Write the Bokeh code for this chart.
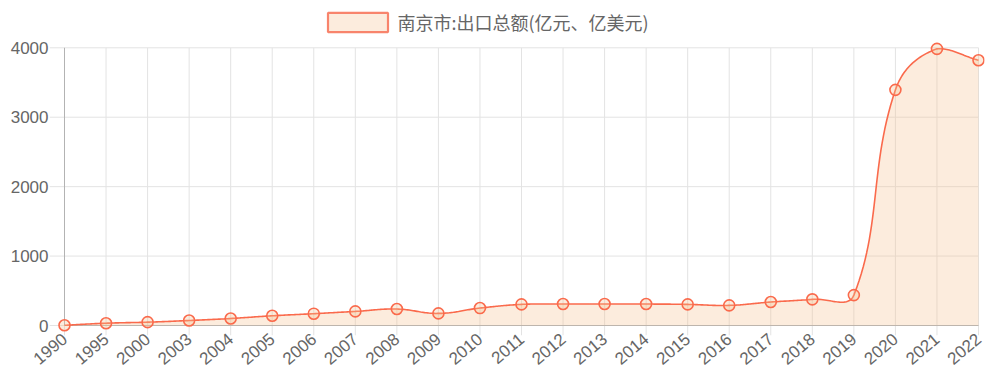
import numpy as np
from bokeh.plotting import figure
from bokeh.models import Legend, LegendItem, FixedTicker, Range1d
from bokeh.embed import file_html
from bokeh.resources import INLINE

years = ["1990", "1995", "2000", "2003", "2004", "2005", "2006", "2007", "2008", "2009",
         "2010", "2011", "2012", "2013", "2014", "2015", "2016", "2017", "2018", "2019",
         "2020", "2021", "2022"]
export_total = [3, 33, 48, 72, 101, 140, 170, 203, 237, 174,
                251, 304, 309, 309, 309, 304, 290, 338, 377, 438,
                3394, 3985, 3821]
y_ticks = [0, 1000, 2000, 3000, 4000]
series_name = "南京市:出口总额(亿元、亿美元)"

LINE = "#fa6a4c"
FILL = "#f5c08e"
FILL_A = 0.3
GRID = "#e3e3e3"
AXIS = "#b3b3b3"
TXT = "#666666"

n = len(years)
xi = np.arange(n, dtype=float)
yv = np.array(export_total, dtype=float)
ymax = y_ticks[-1]

# pixel extents of the padded frame (Chart.js tick marks drawn as grid extensions)
PAD_L, PAD_R, PAD_B, PAD_T = 15, 6, 10, 47.3
FRAME_W, FRAME_H = 935, 335
sx = (FRAME_W - PAD_L - PAD_R) / (n - 1)
sy = (FRAME_H - PAD_B - PAD_T) / ymax

# Chart.js-style spline smoothing (tension 0.4), in pixel space
px, py = xi * sx, yv * sy
tension = 0.4
cpn = np.zeros((n, 2)); cpp = np.zeros((n, 2))
for i in range(n):
    cur = np.array([px[i], py[i]])
    prev = np.array([px[i - 1], py[i - 1]]) if i > 0 else cur
    nxt = np.array([px[i + 1], py[i + 1]]) if i < n - 1 else cur
    d01 = np.hypot(*(cur - prev)); d12 = np.hypot(*(nxt - cur))
    tot = d01 + d12
    s01 = d01 / tot if tot else 0; s12 = d12 / tot if tot else 0
    fa, fb = tension * s01, tension * s12
    cpp[i] = cur - fa * (nxt - prev)
    cpn[i] = cur + fb * (nxt - prev)
top = ymax * sy
cpp[:, 1] = np.clip(cpp[:, 1], 0, top); cpn[:, 1] = np.clip(cpn[:, 1], 0, top)
cx, cy = [], []
tt = np.linspace(0, 1, 30)
for i in range(n - 1):
    p0 = np.array([px[i], py[i]]); p3 = np.array([px[i + 1], py[i + 1]])
    p1 = cpn[i]; p2 = cpp[i + 1]
    for t in (tt if i == 0 else tt[1:]):
        b = (1 - t) ** 3 * p0 + 3 * (1 - t) ** 2 * t * p1 + 3 * (1 - t) * t ** 2 * p2 + t ** 3 * p3
        cx.append(b[0] / sx); cy.append(b[1] / sy)

x0, x1 = -PAD_L / sx, (n - 1) + PAD_R / sx
y0, y1 = -PAD_B / sy, ymax + PAD_T / sy

p = figure(width=988, height=388, output_backend="svg", toolbar_location=None,
           x_range=Range1d(x0, x1), y_range=Range1d(y0, y1),
           min_border_left=49, min_border_right=4, min_border_top=0, min_border_bottom=53)
p.outline_line_color = None
p.background_fill_color = "white"
p.border_fill_color = "white"
p.xgrid.grid_line_color = None
p.ygrid.grid_line_color = None

yt = np.array(y_ticks, dtype=float)
# grid lines (with tick extensions)
p.segment(x0=xi, x1=xi, y0=y0, y1=ymax, line_color=GRID, line_width=1)
p.segment(x0=x0, x1=n - 1, y0=yt, y1=yt, line_color=GRID, line_width=1)
# axis lines
p.segment(x0=[0], x1=[n - 1], y0=[0], y1=[0], line_color=AXIS, line_width=1)
p.segment(x0=[0], x1=[0], y0=[0], y1=[ymax], line_color=AXIS, line_width=1)

area = p.varea(x=cx, y1=0, y2=cy, fill_color=FILL, fill_alpha=FILL_A)
ln = p.line(x=cx, y=cy, line_color=LINE, line_width=1.6)
pts = p.scatter(x=xi, y=yv, size=11, marker="circle", line_color=LINE, line_width=1.6,
                fill_color=FILL, fill_alpha=FILL_A)
# legend swatch proxy (not drawn in the plot: NaN geometry)
nan1 = np.full(1, np.nan)
swatch = p.quad(left=nan1, right=nan1, top=nan1, bottom=nan1, fill_color=FILL,
                fill_alpha=FILL_A, line_color="#f8846c", line_width=2.2)

p.xaxis.ticker = FixedTicker(ticks=list(range(n)))
p.xaxis.major_label_overrides = {i: y for i, y in enumerate(years)}
p.xaxis.major_label_orientation = 0.7
p.yaxis.ticker = FixedTicker(ticks=y_ticks)

for ax in (p.xaxis[0], p.yaxis[0]):
    ax.axis_line_color = None
    ax.major_tick_line_color = None
    ax.major_tick_in = 0
    ax.major_tick_out = 0
    ax.minor_tick_line_color = None
    ax.major_label_text_font = "Liberation Sans"
    ax.major_label_text_font_size = "17px"
    ax.major_label_text_color = TXT
p.yaxis.major_label_standoff = 1
p.xaxis.major_label_standoff = 1

legend = Legend(items=[LegendItem(label=series_name, renderers=[swatch])],
                location=(270.5, 300), orientation="horizontal",
                border_line_color=None, background_fill_alpha=0,
                padding=0, margin=0, spacing=0, label_standoff=3,
                glyph_width=75, glyph_height=24,
                label_text_font="Noto Sans CJK SC", label_text_font_size="18px",
                label_text_color=TXT)
p.add_layout(legend, "center")

open("out.html", "w").write(file_html(p, INLINE))
